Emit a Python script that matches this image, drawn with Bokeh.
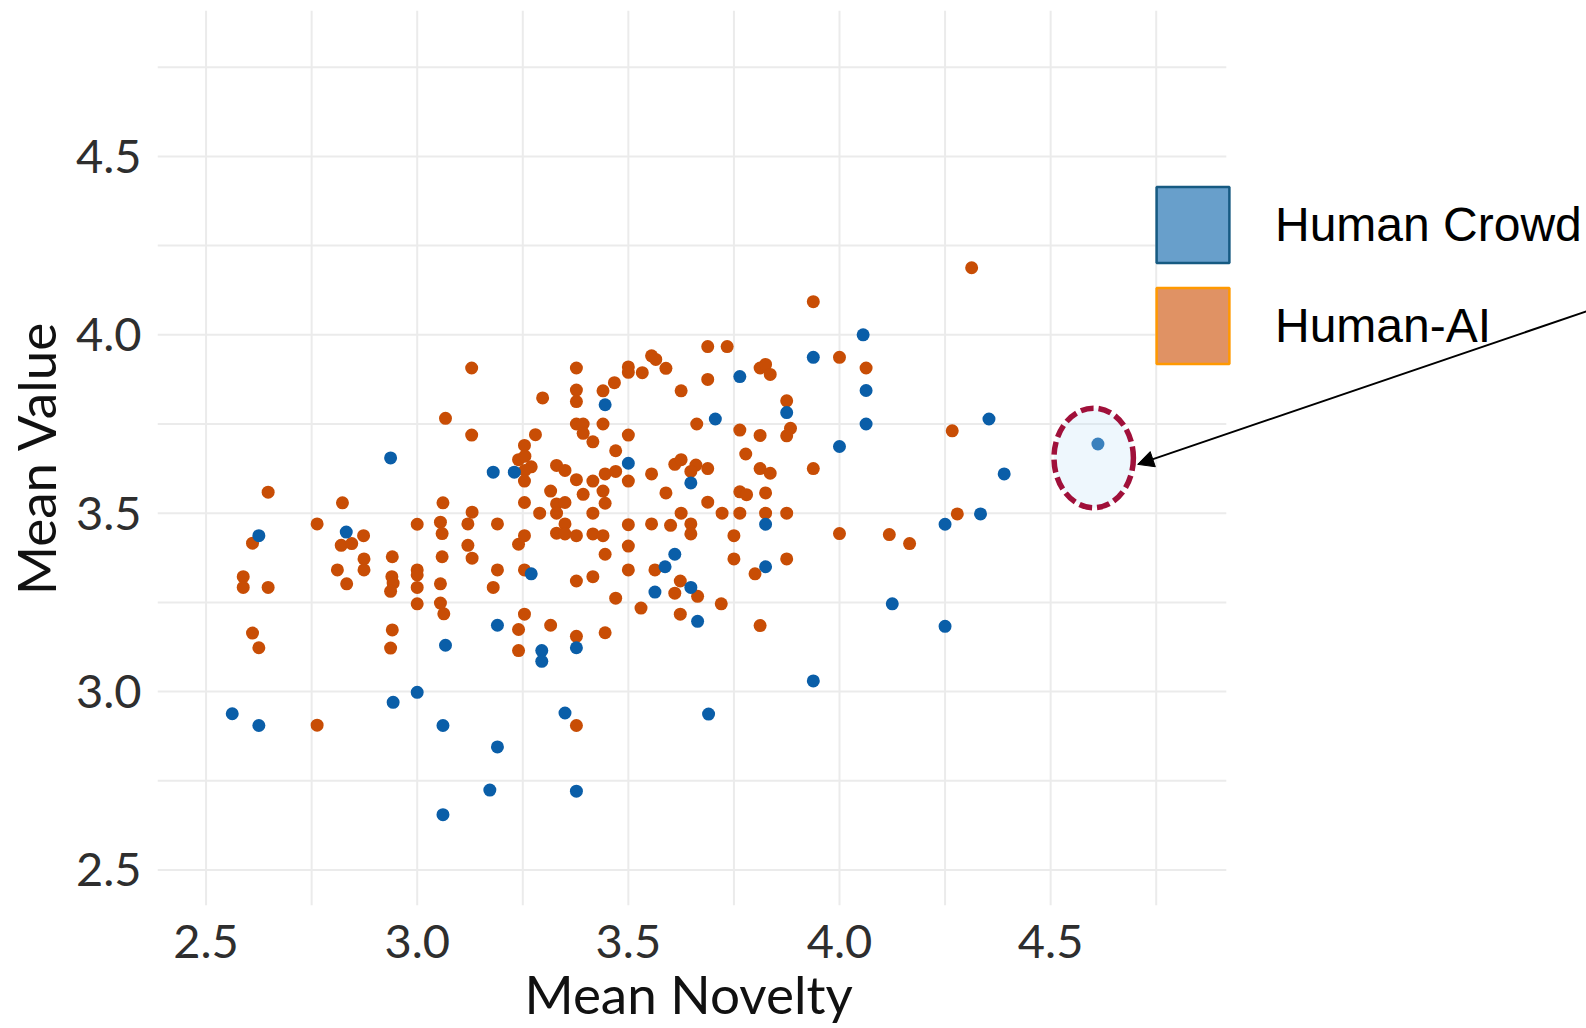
from bokeh.plotting import figure
from bokeh.models import (FixedTicker, PrintfTickFormatter, Legend, LegendItem,
                          Arrow, NormalHead, Range1d, Title)
from bokeh.embed import file_html
from bokeh.resources import INLINE

# ---------------- data ----------------
series_labels = ["Human Crowd", "Human-AI"]
x_title = "Mean Novelty"
y_title = "Mean Value"

crowd_novelty = [2.937, 2.625, 2.832, 3.067, 3.000, 2.943, 2.562, 2.625, 3.061, 3.061,
                 3.445, 3.500, 3.180, 3.230, 3.648, 3.270, 3.610, 3.587, 3.563, 3.648,
                 3.664, 3.190, 3.377, 3.295, 3.295, 3.350, 3.190, 3.172, 3.377, 4.056,
                 3.938, 3.764, 4.063, 3.875, 3.706, 4.063, 4.000, 3.825, 3.825, 3.938,
                 3.690, 4.125, 4.354, 4.390, 4.612, 4.334, 4.250, 4.250]
crowd_value = [3.655, 3.437, 3.447, 3.130, 2.998, 2.970, 2.938, 2.905, 2.905, 2.655,
               3.804, 3.640, 3.615, 3.615, 3.585, 3.330, 3.385, 3.350, 3.279, 3.292,
               3.197, 3.186, 3.123, 3.115, 3.085, 2.940, 2.845, 2.724, 2.721, 4.000,
               3.937, 3.883, 3.844, 3.782, 3.764, 3.750, 3.687, 3.469, 3.350, 3.030,
               2.937, 3.246, 3.764, 3.610, 3.694, 3.498, 3.469, 3.183]

hai_novelty = [2.647, 2.823, 3.061, 2.763, 2.610, 2.873, 2.820, 2.845, 3.000, 3.055,
               3.059, 3.067, 2.874, 2.874, 2.811, 2.833, 2.588, 2.588, 2.647, 2.941,
               2.940, 2.943, 2.937, 3.000, 3.000, 3.000, 3.000, 3.059, 3.055, 3.055,
               3.063, 2.610, 2.625, 2.941, 2.937, 2.763, 3.129, 3.377, 3.297, 3.377,
               3.377, 3.440, 3.467, 3.500, 3.500, 3.533, 3.555, 3.565, 3.589, 3.625,
               3.129, 3.377, 3.393, 3.393, 3.416, 3.440, 3.500, 3.662, 3.280, 3.254,
               3.240, 3.255, 3.270, 3.255, 3.470, 3.330, 3.350, 3.377, 3.254, 3.416,
               3.445, 3.470, 3.500, 3.555, 3.589, 3.610, 3.625, 3.660, 3.648, 3.316,
               3.393, 3.440, 3.445, 3.254, 3.330, 3.350, 3.330, 3.290, 3.416, 3.130,
               3.120, 3.190, 3.350, 3.330, 3.350, 3.377, 3.416, 3.440, 3.500, 3.555,
               3.600, 3.625, 3.648, 3.648, 3.254, 3.240, 3.120, 3.500, 3.130, 3.190,
               3.180, 3.254, 3.377, 3.416, 3.445, 3.500, 3.563, 3.623, 3.610, 3.664,
               3.470, 3.530, 3.623, 3.254, 3.240, 3.240, 3.316, 3.377, 3.445, 3.377,
               3.938, 3.688, 3.734, 4.000, 4.063, 3.812, 3.825, 3.836, 3.688, 3.875,
               3.884, 3.875, 3.764, 3.812, 3.778, 3.688, 3.812, 3.836, 3.938, 3.764,
               3.780, 3.825, 3.688, 3.722, 3.764, 3.825, 3.875, 3.750, 4.000, 4.118,
               4.166, 3.750, 3.800, 3.875, 3.720, 3.812, 4.313, 4.267, 4.279]
hai_value = [3.559, 3.529, 3.529, 3.470, 3.416, 3.437, 3.410, 3.415, 3.469, 3.475,
             3.443, 3.766, 3.372, 3.341, 3.341, 3.302, 3.322, 3.292, 3.292, 3.378,
             3.322, 3.304, 3.281, 3.341, 3.327, 3.292, 3.246, 3.378, 3.302, 3.248,
             3.218, 3.164, 3.123, 3.173, 3.122, 2.906, 3.907, 3.907, 3.823, 3.845,
             3.813, 3.843, 3.866, 3.910, 3.895, 3.894, 3.941, 3.931, 3.906, 3.843,
             3.719, 3.750, 3.750, 3.724, 3.700, 3.750, 3.719, 3.750, 3.720, 3.690,
             3.650, 3.660, 3.630, 3.620, 3.675, 3.634, 3.620, 3.594, 3.590, 3.590,
             3.610, 3.617, 3.590, 3.610, 3.557, 3.637, 3.650, 3.635, 3.617, 3.562,
             3.553, 3.562, 3.528, 3.530, 3.526, 3.530, 3.500, 3.500, 3.500, 3.503,
             3.470, 3.470, 3.470, 3.444, 3.442, 3.437, 3.442, 3.437, 3.468, 3.470,
             3.466, 3.500, 3.470, 3.442, 3.437, 3.413, 3.410, 3.408, 3.374, 3.341,
             3.292, 3.341, 3.310, 3.322, 3.385, 3.341, 3.341, 3.310, 3.276, 3.267,
             3.262, 3.234, 3.217, 3.217, 3.174, 3.115, 3.186, 3.155, 3.165, 2.905,
             4.093, 3.967, 3.967, 3.937, 3.907, 3.907, 3.917, 3.889, 3.875, 3.815,
             3.738, 3.717, 3.733, 3.718, 3.666, 3.625, 3.625, 3.612, 3.625, 3.560,
             3.552, 3.557, 3.531, 3.500, 3.500, 3.500, 3.500, 3.437, 3.443, 3.440,
             3.415, 3.372, 3.330, 3.372, 3.246, 3.185, 4.188, 3.731, 3.498]

tick_values = [2.5, 3.0, 3.5, 4.0, 4.5]
minor_values = [2.75, 3.25, 3.75, 4.25, 4.75]

# highlighted (circled) observation
highlight_index = 44

# ---------------- styling / layout ----------------
CROWD_COLOR = "#0a5ea8"
HAI_COLOR = "#c84d05"
PANEL_X = (2.385, 4.916)
PANEL_Y = (2.4005, 4.909)
FRAME_LEFT = 157
X_TITLE_LEFT_PX = 524   # left edge of the x title on the canvas

p = figure(width=1586, height=1028, output_backend="svg", toolbar_location=None,
           x_range=Range1d(PANEL_X[0], 5.769), y_range=Range1d(PANEL_Y[0], PANEL_Y[1]),
           min_border_left=FRAME_LEFT, min_border_right=0, min_border_top=10,
           min_border_bottom=123)
p.xgrid.visible = False
p.ygrid.visible = False
p.outline_line_color = None
p.background_fill_color = "white"

# grid lines limited to the panel
grid_pos = tick_values + minor_values
n = len(grid_pos)
p.segment(x0=grid_pos, x1=grid_pos, y0=[PANEL_Y[0]] * n, y1=[PANEL_Y[1]] * n,
          line_color="#ebebeb", line_width=2)
p.segment(x0=[PANEL_X[0]] * n, x1=[PANEL_X[1]] * n, y0=grid_pos, y1=grid_pos,
          line_color="#ebebeb", line_width=2)

# points
p.scatter(hai_novelty, hai_value, size=13, fill_color=HAI_COLOR, line_color=None)
p.scatter(crowd_novelty, crowd_value, size=13, fill_color=CROWD_COLOR, line_color=None)

# highlight ellipse around the outlier
hx = crowd_novelty[highlight_index]
hy = crowd_value[highlight_index]
p.ellipse(x=[hx - 0.010], y=[hy - 0.039], width=[0.188], height=[0.279],
          fill_color="#bfe1f7", fill_alpha=0.27,
          line_color="#a0103a", line_width=5.5, line_dash="13 5")

# arrow pointing at the ellipse
p.add_layout(Arrow(end=NormalHead(size=16, fill_color="black", line_color="black"),
                   x_start=5.802, y_start=4.079, x_end=hx + 0.094, y_end=hy - 0.057,
                   line_color="black", line_width=2))

# legend with square keys (proxy renderers placed outside the visible range)
r_crowd = p.quad(left=[0], right=[0], top=[0], bottom=[0], fill_color="#689fcb",
                 line_color="#165a82", line_width=2.5)
r_hai = p.quad(left=[0], right=[0], top=[0], bottom=[0], fill_color="#e09264",
               line_color="#ff9900", line_width=2.5)
legend = Legend(items=[LegendItem(label=series_labels[0], renderers=[r_crowd]),
                       LegendItem(label=series_labels[1], renderers=[r_hai])],
                location=(990, 532), glyph_width=91, glyph_height=95, spacing=6,
                padding=0, margin=0, label_standoff=37,
                label_text_font="Liberation Sans", label_text_font_size="48px",
                label_text_color="black", border_line_color=None,
                background_fill_alpha=0)
p.add_layout(legend)

# axes
for ax in (p.xaxis[0], p.yaxis[0]):
    ax.ticker = FixedTicker(ticks=tick_values, minor_ticks=[])
    ax.formatter = PrintfTickFormatter(format="%.1f")
    ax.axis_line_color = None
    ax.major_tick_line_color = None
    ax.minor_tick_line_color = None
    ax.major_tick_out = 0
    ax.major_tick_in = 0
    ax.major_label_text_font = "Lato"
    ax.major_label_text_font_size = "47px"
    ax.major_label_text_color = "#2e2e2e"
    ax.axis_label_text_font = "Lato"
    ax.axis_label_text_font_size = "53px"
    ax.axis_label_text_font_style = "normal"
    ax.axis_label_text_color = "#111111"

p.yaxis.axis_label = y_title
p.xaxis.major_label_standoff = 19
p.yaxis.major_label_standoff = 16
p.yaxis.axis_label_standoff = 6

# x-axis title centred under the data panel (not under the whole frame)
p.add_layout(Title(text=x_title, align="left", vertical_align="top",
                   offset=X_TITLE_LEFT_PX - FRAME_LEFT, standoff=2,
                   text_font="Lato", text_font_size="53px", text_font_style="normal",
                   text_color="#111111"), "below")

open("out.html", "w").write(file_html(p, INLINE))
